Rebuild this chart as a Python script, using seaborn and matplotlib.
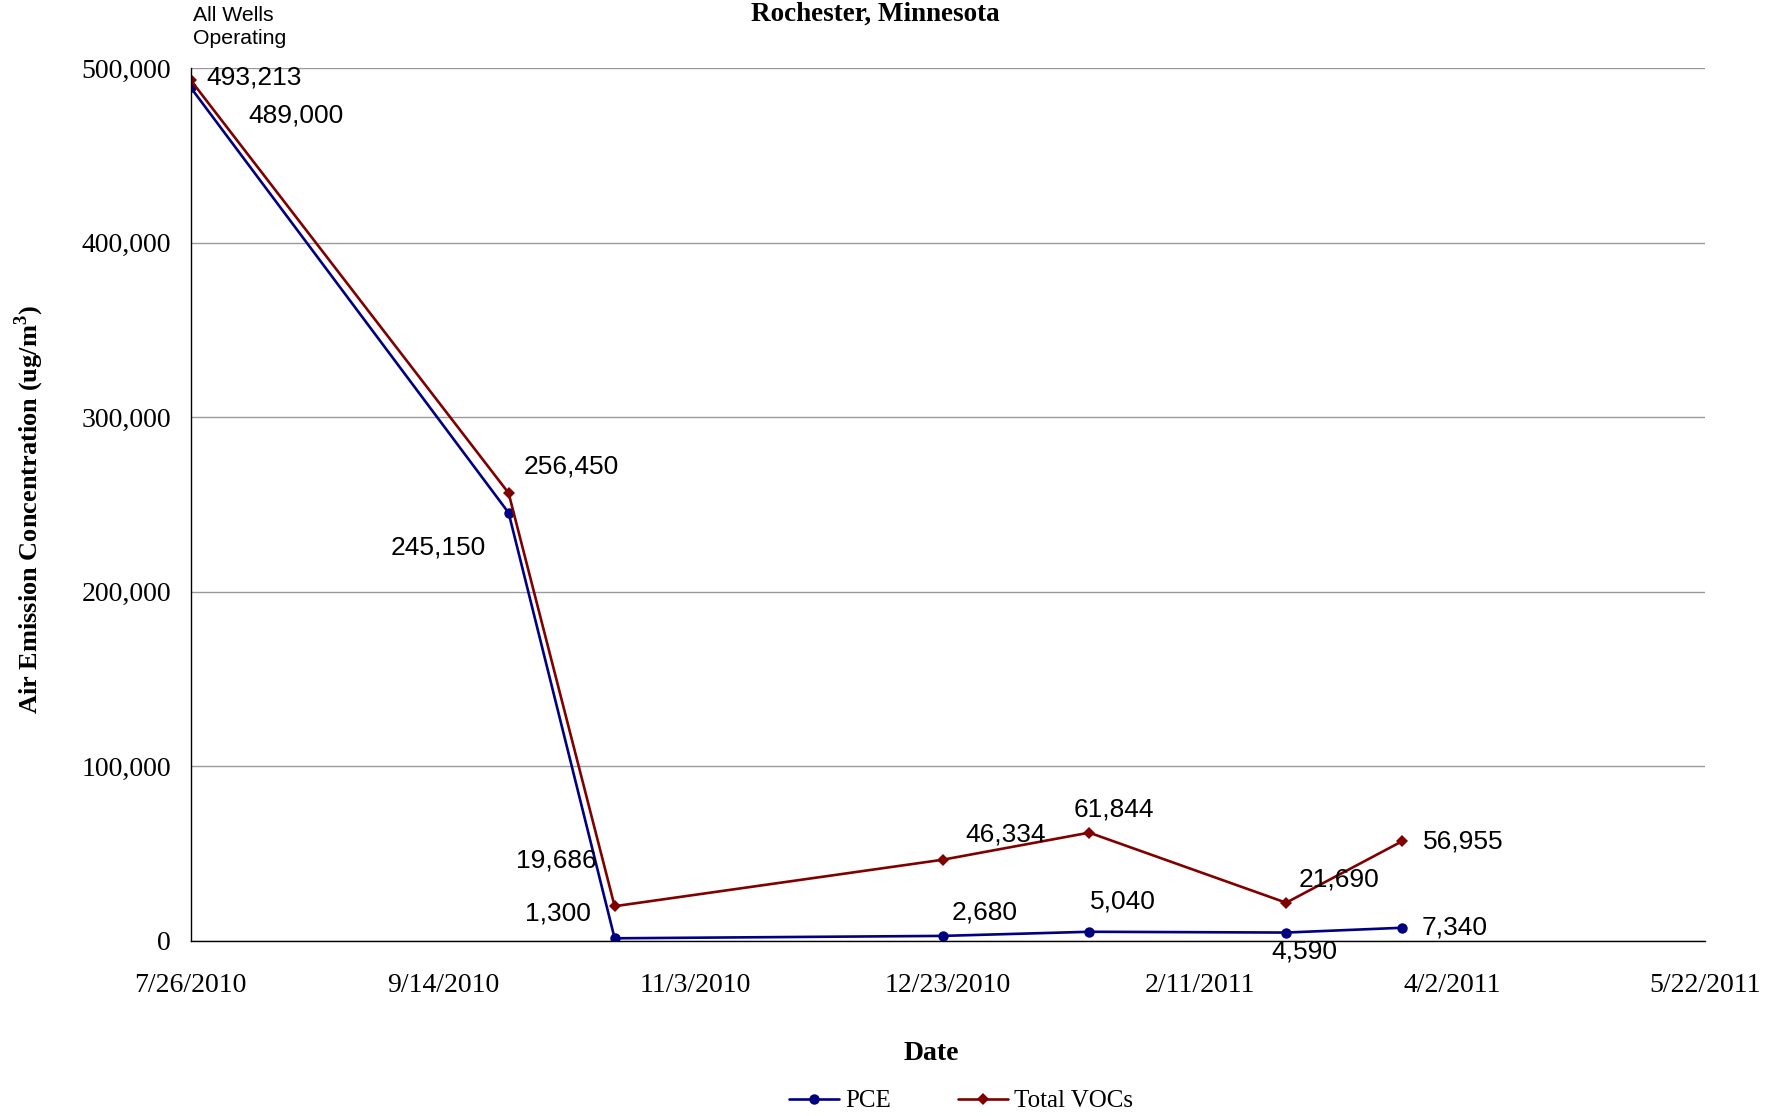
import matplotlib
matplotlib.use("Agg")
import matplotlib.pyplot as plt
import matplotlib.dates as mdates
import matplotlib.ticker as mticker
from matplotlib.lines import Line2D
import numpy as np
import pandas as pd
import seaborn as sns

# Sampling dates and measured concentrations (ug/m3)
dates = ["2010-07-26", "2010-09-27", "2010-10-18", "2010-12-22",
         "2011-01-20", "2011-02-28", "2011-03-23"]
pce = [489000, 245150, 1300, 2680, 5040, 4590, 7340]
total_vocs = [493213, 256450, 19686, 46334, 61844, 21690, 56955]

x_start = "2010-07-26"
x_end = "2011-05-22"
tick_step_days = 50
y_ticks = [0, 100000, 200000, 300000, 400000, 500000]

# label offsets (points) for each value label
pce_offsets = [(76, -20), (-51, -25), (-41, 18), (30, 17), (24, 22), (13, -14), (38, 0)]
voc_offsets = [(46, 2), (45, 19), (-42, 33), (45, 18), (18, 17), (38, 17), (44, 0)]

sns.set_style("white")
serif = ["Liberation Serif", "DejaVu Serif"]
sans = ["Liberation Sans", "DejaVu Sans"]
plt.rcParams["font.family"] = serif
plt.rcParams["text.color"] = "black"
plt.rcParams["xtick.color"] = "black"
plt.rcParams["ytick.color"] = "black"

df = pd.DataFrame({
    "Date": pd.to_datetime(dates * 2),
    "Value": pce + total_vocs,
    "Series": ["PCE"] * len(pce) + ["Total VOCs"] * len(total_vocs),
})

fig = plt.figure(figsize=(17.79, 11.16), dpi=100)
ax = fig.add_axes([0.1071, 0.1572, 0.8514, 0.7818])

palette = {"PCE": "#000080", "Total VOCs": "#800000"}
circle_size = 7.5
diamond_size = 6.0
lw = 1.9
sns.lineplot(data=df, x="Date", y="Value", hue="Series", style="Series",
             markers={"PCE": "o", "Total VOCs": "D"}, dashes=False,
             palette=palette, linewidth=lw, markersize=circle_size,
             markeredgewidth=0, ax=ax, legend=False, sort=False)
for line in ax.get_lines():
    if line.get_marker() == "D":
        line.set_markersize(diamond_size)

# value labels
for d, v, off in zip(dates, pce, pce_offsets):
    ax.annotate(f"{v:,}", (mdates.date2num(pd.Timestamp(d)), v), xytext=off,
                textcoords="offset points", ha="center", va="center",
                fontsize=19, family=sans, color="black")
for d, v, off in zip(dates, total_vocs, voc_offsets):
    ax.annotate(f"{v:,}", (mdates.date2num(pd.Timestamp(d)), v), xytext=off,
                textcoords="offset points", ha="center", va="center",
                fontsize=19, family=sans, color="black")

# axes ranges and ticks
x0 = mdates.date2num(pd.Timestamp(x_start))
x1 = mdates.date2num(pd.Timestamp(x_end))
ax.set_xlim(x0, x1)
ax.set_ylim(0, 500000)
xt = np.arange(x0, x1 + 1, tick_step_days)
ax.set_xticks(xt)
ax.set_xticklabels([f"{mdates.num2date(t).month}/{mdates.num2date(t).day}/{mdates.num2date(t).year}" for t in xt])
ax.set_yticks(y_ticks)
ax.yaxis.set_major_formatter(mticker.FuncFormatter(lambda v, p: f"{int(v):,}"))
ax.tick_params(axis="x", direction="out", length=5, width=1, color="#888888",
               pad=18, labelsize=20, labelcolor="black")
ax.tick_params(axis="y", direction="out", length=5, width=1, color="#333333",
               pad=9, labelsize=20, labelcolor="black")

ax.grid(axis="y", color="#9a9a9a", linewidth=1)
ax.grid(axis="x", visible=False)
ax.set_axisbelow(True)
for side in ["top", "right"]:
    ax.spines[side].set_visible(False)
for side in ["left", "bottom"]:
    ax.spines[side].set_color("black")
    ax.spines[side].set_linewidth(1)

ax.set_xlabel("")
ax.set_ylabel("")
fig.text(0.0162, 0.543, "Air Emission Concentration (ug/m$^\\mathregular{3}$)",
         rotation=90, ha="center", va="center", fontsize=19, fontweight="bold")
fig.text(0.5233, 1 - 1054 / 1116, "Date", ha="center", va="center",
         fontsize=20, fontweight="bold")
fig.text(0.4918, 1 - 14 / 1116, "Rochester, Minnesota", ha="center", va="center",
         fontsize=19.5, fontweight="bold")
fig.text(193 / 1779, 1 - 6 / 1116, "All Wells\nOperating", ha="left", va="top",
         fontsize=15.3, family=sans, linespacing=1.3)

# legend
handles = [Line2D([], [], color=palette["PCE"], marker="o", markersize=circle_size,
                  markeredgewidth=0, linewidth=lw),
           Line2D([], [], color=palette["Total VOCs"], marker="D", markersize=diamond_size,
                  markeredgewidth=0, linewidth=lw)]
fig.legend(handles, ["PCE", "Total VOCs"], loc="center",
           bbox_to_anchor=(961 / 1779, 1 - 1101 / 1116), ncol=2, frameon=False,
           fontsize=18, handlelength=2.0, handletextpad=0.25, columnspacing=2.7)

fig.savefig("out.png", dpi=100)
